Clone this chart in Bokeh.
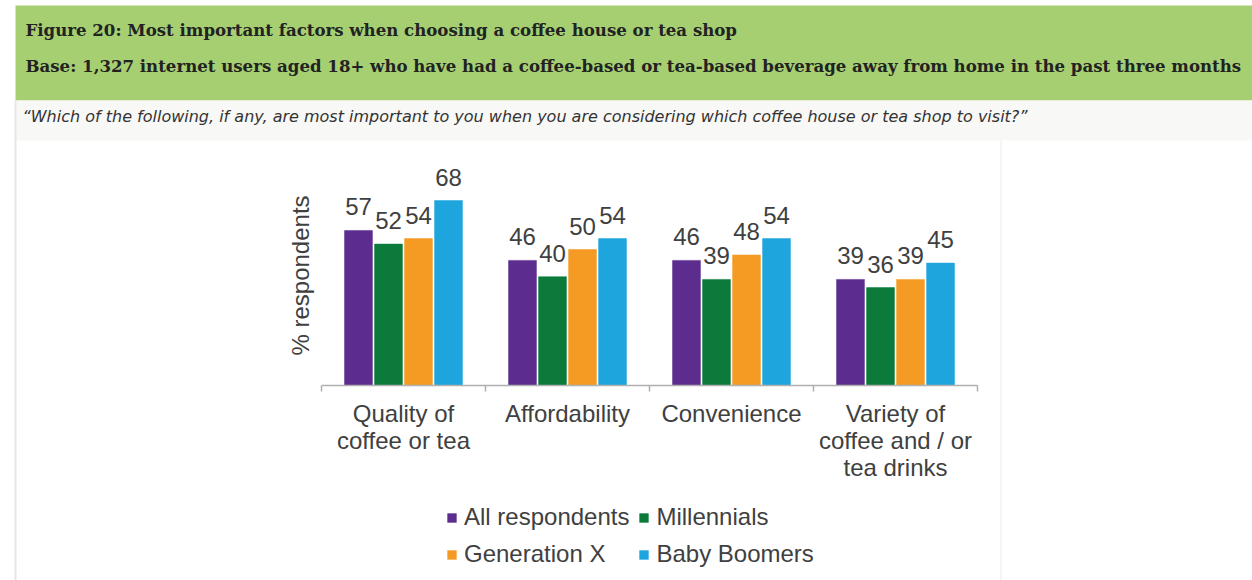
from bokeh.plotting import figure
from bokeh.models import (Range1d, FixedTicker, Label, LabelSet, ColumnDataSource,
                          BoxAnnotation, Legend, LegendItem)
from bokeh.core.properties import value
from bokeh.embed import file_html
from bokeh.resources import INLINE
import math

# ---------------- data ----------------
categories = ["Quality of\ncoffee or tea", "Affordability", "Convenience",
              "Variety of\ncoffee and / or\ntea drinks"]
series_names = ["All respondents", "Millennials", "Generation X", "Baby Boomers"]
all_respondents = [57, 46, 46, 39]
millennials = [52, 40, 39, 36]
generation_x = [54, 50, 48, 39]
baby_boomers = [68, 54, 54, 45]
series_values = [all_respondents, millennials, generation_x, baby_boomers]
colors = ["#5c2d8e", "#0b7a3b", "#f59a23", "#1ea5de"]

title_text = "Figure 20: Most important factors when choosing a coffee house or tea shop"
base_text = ("Base: 1,327 internet users aged 18+ who have had a coffee-based or tea-based "
             "beverage away from home in the past three months")
question_text = ("\u201cWhich of the following, if any, are most important to you when you are "
                 "considering which coffee house or tea shop to visit?\u201d")
y_label = "% respondents"

# ---------------- layout (pixels) ----------------
W, H = 1252, 580
AX_L, AX_R, AX_Y = 321, 977, 385     # axis extent and baseline
PX_PER_UNIT = 2.72
N = len(categories)
GROUP_PX = (AX_R - AX_L) / N
TXT = "#404040"
FONT = "Liberation Sans"

def sx(X):
    return X

def sy(Y):
    return H - Y

p = figure(width=W, height=H, output_backend="svg", toolbar_location=None, title=None,
           x_range=Range1d(-AX_L / GROUP_PX, N + (W - AX_R) / GROUP_PX),
           y_range=Range1d(-(H - AX_Y) / PX_PER_UNIT, AX_Y / PX_PER_UNIT),
           min_border=0, min_border_left=0, min_border_right=0,
           min_border_top=0, min_border_bottom=0)
p.outline_line_color = None
p.xgrid.visible = False
p.ygrid.visible = False
p.yaxis.visible = False
p.background_fill_color = "white"
p.border_fill_color = "white"

def box(l, r, t, b, color):
    return BoxAnnotation(left=sx(l), right=sx(r), top=sy(t), bottom=sy(b),
                         left_units="screen", right_units="screen",
                         top_units="screen", bottom_units="screen",
                         fill_color=color, fill_alpha=1, line_color=None, level="underlay")

# page decorations
p.add_layout(box(15, 1252, 5, 100, "#a6cf72"))
p.add_layout(box(15, 1252, 100, 140, "#f8f8f6"))
p.add_layout(box(14, 16, 100, 580, "#e6e6e6"))
p.add_layout(box(1000, 1001, 140, 580, "#ececec"))

p.add_layout(Label(x=sx(25), y=sy(29), x_units="screen", y_units="screen", text=title_text,
                   text_font="DejaVu Serif", text_font_style="bold", text_font_size="16.6px",
                   text_color="#222222", text_baseline="middle", text_align="left"))
p.add_layout(Label(x=sx(25), y=sy(65), x_units="screen", y_units="screen", text=base_text,
                   text_font="DejaVu Serif", text_font_style="bold", text_font_size="16.6px",
                   text_color="#222222", text_baseline="middle", text_align="left"))
p.add_layout(Label(x=sx(22), y=sy(116), x_units="screen", y_units="screen", text=question_text,
                   text_font="DejaVu Sans", text_font_style="italic", text_font_size="16px",
                   text_color="#333333", text_baseline="middle", text_align="left"))

# y axis title
p.add_layout(Label(x=sx(300), y=sy(275), x_units="screen", y_units="screen", text=y_label,
                   angle=math.pi / 2, text_font=FONT, text_font_size="24px", text_color=TXT,
                   text_baseline="middle", text_align="center"))

# ---------------- bars ----------------
step = 0.183
bar_w = 0.17
renderers = []
for j, (name, vals, col) in enumerate(zip(series_names, series_values, colors)):
    xs = [i + 0.5 + (j - 1.5) * step for i in range(N)]
    src = ColumnDataSource(dict(x=xs, top=vals, lab=[str(v) for v in vals]))
    r = p.vbar(x="x", top="top", width=bar_w, bottom=0, source=src,
               fill_color=col, line_color=col, line_width=0.5)
    renderers.append(r)
    p.add_layout(LabelSet(x="x", y="top", text="lab", source=src, y_offset=15,
                          text_align="center", text_baseline="alphabetic",
                          text_font=value(FONT), text_font_size="24px", text_color=TXT))

# ---------------- x axis ----------------
ax = p.xaxis[0]
ax.fixed_location = 0
ax.bounds = (0, N)
ax.ticker = FixedTicker(ticks=[i + 0.5 for i in range(N)], minor_ticks=list(range(N + 1)))
ax.major_label_overrides = {i + 0.5: c for i, c in enumerate(categories)}
ax.major_tick_line_color = None
ax.major_tick_in = 0
ax.major_tick_out = 0
ax.minor_tick_in = 0
ax.minor_tick_out = 6
ax.minor_tick_line_color = "#b0b0b0"
ax.minor_tick_line_width = 1.5
ax.axis_line_color = "#b0b0b0"
ax.axis_line_width = 1.5
ax.major_label_standoff = 8
ax.major_label_text_font = FONT
ax.major_label_text_font_size = "24px"
ax.major_label_text_color = TXT
ax.major_label_text_line_height = 1.0

# ---------------- legend ----------------
legend = Legend(items=[LegendItem(label=n, renderers=[r]) for n, r in zip(series_names, renderers)],
                ncols=2, orientation="horizontal", location=(sx(446), sy(568)),
                glyph_width=11, glyph_height=11, label_standoff=7, spacing=9,
                padding=0, margin=0, border_line_color=None, background_fill_alpha=0,
                label_text_font=FONT, label_text_font_size="24px", label_text_color=TXT)
p.add_layout(legend, "center")

open("out.html", "w").write(file_html(p, INLINE))
